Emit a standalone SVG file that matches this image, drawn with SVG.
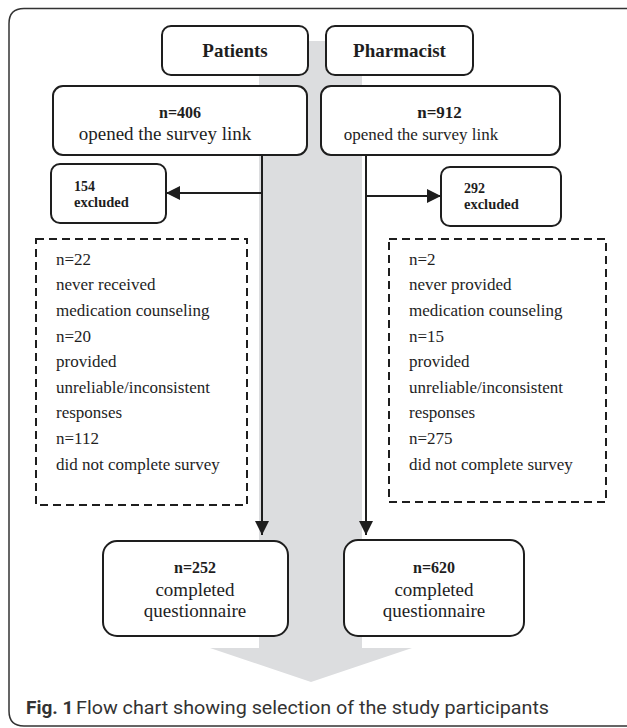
<svg xmlns="http://www.w3.org/2000/svg" width="627" height="728" viewBox="0 0 627 728">
<defs>
<style>
.box{fill:#fff;stroke:#1e1e1e;stroke-width:2}
.dash{fill:#fff;stroke:#1e1e1e;stroke-width:2;stroke-dasharray:8 5}
.s{font-family:"Liberation Serif","Times New Roman",serif;fill:#1e1e1e}
.b{font-weight:bold}
.ln{stroke:#1e1e1e;stroke-width:2;fill:none}
.cap{font-family:Roboto,"Open Sans",sans-serif;fill:#333;font-size:19px}
</style>
<marker id="ah" viewBox="0 0 10 10" refX="10" refY="5" markerWidth="7" markerHeight="7" orient="auto" markerUnits="strokeWidth">
<path d="M0,0 L10,5 L0,10 z" fill="#1e1e1e"/>
</marker>
</defs>
<rect width="627" height="728" fill="#fff"/>
<path d="M627,8.5 H24 Q9,8.5 9,23.5 V711 Q9,726 24,726 H627" fill="none" stroke="#333" stroke-width="1.5"/>
<g id="bigarrow">
<path d="M259,41 H362 V648 H412 L311,682 L210,648 H259 Z" fill="#dcdddf"/>
</g>
<g id="connectors">
<line class="ln" x1="262" y1="155" x2="262" y2="535" marker-end="url(#ah)"/>
<line class="ln" x1="262" y1="193" x2="166" y2="193" marker-end="url(#ah)"/>
<line class="ln" x1="366" y1="155" x2="366" y2="535" marker-end="url(#ah)"/>
<line class="ln" x1="366" y1="196" x2="441" y2="196" marker-end="url(#ah)"/>
</g>
<g id="patients">
<rect class="box" x="162" y="26" width="146" height="49" rx="9"/>
<text class="s b" x="235" y="57" font-size="19" text-anchor="middle">Patients</text>
</g>
<g id="pharmacist">
<rect class="box" x="326" y="26" width="147" height="49" rx="9"/>
<text class="s b" x="399.5" y="57" font-size="19" text-anchor="middle">Pharmacist</text>
</g>
<g id="opened-patients">
<rect class="box" x="53" y="86" width="254" height="69" rx="10"/>
<text class="s b" x="180" y="118" font-size="16" text-anchor="middle">n=406</text>
<text class="s" x="165" y="140" font-size="19" text-anchor="middle">opened the survey link</text>
</g>
<g id="opened-pharmacist">
<rect class="box" x="321" y="86" width="239" height="69" rx="10"/>
<text class="s b" x="439.5" y="118" font-size="17" text-anchor="middle">n=912</text>
<text class="s" x="421" y="140" font-size="17" text-anchor="middle">opened the survey link</text>
</g>
<g id="excluded-patients">
<rect class="box" x="51" y="164" width="115" height="59" rx="9"/>
<text class="s b" x="74" y="191" font-size="14">154</text>
<text class="s b" x="74" y="207" font-size="14.5">excluded</text>
</g>
<g id="excluded-pharmacist">
<rect class="box" x="441" y="167" width="120" height="59" rx="9"/>
<text class="s b" x="464" y="193" font-size="14">292</text>
<text class="s b" x="464" y="209" font-size="14.5">excluded</text>
</g>
<g id="reasons-patients">
<rect class="dash" x="36" y="239" width="211" height="266"/>
<g class="s" font-size="17">
<text x="56" y="265">n=22</text>
<text x="56" y="290">never received</text>
<text x="56" y="316">medication counseling</text>
<text x="56" y="342">n=20</text>
<text x="56" y="367">provided</text>
<text x="56" y="393">unreliable/inconsistent</text>
<text x="56" y="418">responses</text>
<text x="56" y="444">n=112</text>
<text x="56" y="470">did not complete survey</text>
</g>
</g>
<g id="reasons-pharmacist">
<rect class="dash" x="389" y="239" width="217" height="263"/>
<g class="s" font-size="17">
<text x="409" y="265">n=2</text>
<text x="409" y="290">never provided</text>
<text x="409" y="316">medication counseling</text>
<text x="409" y="342">n=15</text>
<text x="409" y="367">provided</text>
<text x="409" y="393">unreliable/inconsistent</text>
<text x="409" y="418">responses</text>
<text x="409" y="444">n=275</text>
<text x="409" y="470">did not complete survey</text>
</g>
</g>
<g id="completed-patients">
<rect class="box" x="103" y="541" width="185" height="95" rx="14"/>
<text class="s b" x="195" y="573" font-size="16" text-anchor="middle">n=252</text>
<text class="s" x="195" y="596" font-size="19" text-anchor="middle">completed</text>
<text class="s" x="195" y="617" font-size="19" text-anchor="middle">questionnaire</text>
</g>
<g id="completed-pharmacist">
<rect class="box" x="344" y="540" width="180" height="96" rx="14"/>
<text class="s b" x="434" y="573" font-size="16" text-anchor="middle">n=620</text>
<text class="s" x="434" y="596" font-size="19" text-anchor="middle">completed</text>
<text class="s" x="434" y="617" font-size="19" text-anchor="middle">questionnaire</text>
</g>
<g id="caption">
<text class="cap" x="26" y="714" font-weight="bold">Fig. 1</text>
<text class="cap" x="76" y="714" textLength="473" lengthAdjust="spacingAndGlyphs">Flow chart showing selection of the study participants</text>
</g>
</svg>
